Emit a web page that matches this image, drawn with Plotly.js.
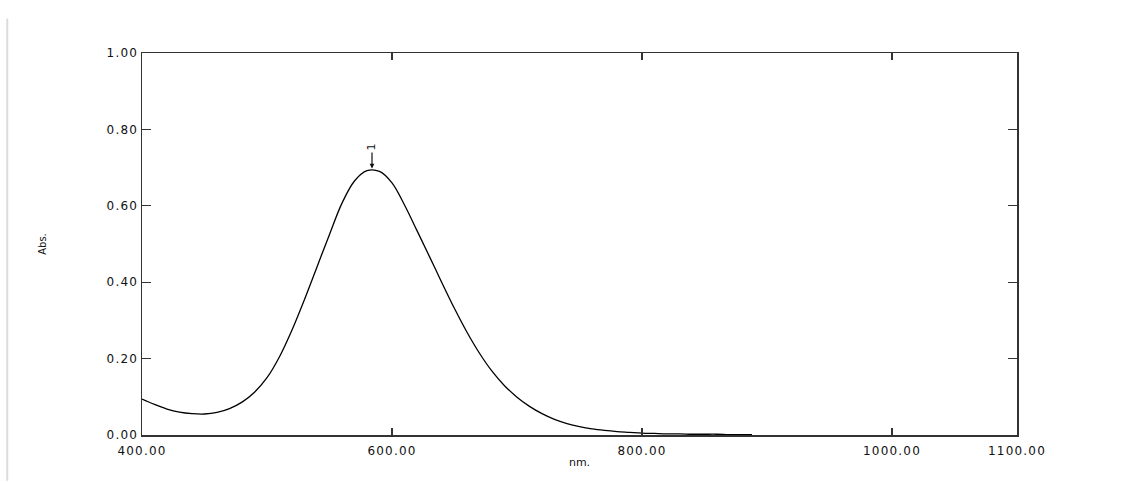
<!DOCTYPE html>
<html>
<head>
<meta charset="utf-8">
<script src="https://cdn.plot.ly/plotly-3.0.1.min.js"></script>
<style>
html,body{margin:0;padding:0;background:#fff;}
#chart{width:1142px;height:482px;}
.xtick text,.ytick text{letter-spacing:1.2px;}
</style>
</head>
<body>
<div id="chart"></div>
<script>
// Wavelength (nm) and absorbance
const wavelength = [400,410,420,430,440,450,460,470,480,490,500,510,520,530,540,550,560,570,580,590,600,610,620,630,640,650,660,670,680,690,700,710,720,730,740,750,760,770,780,790,800,810,820,830,840,850,860,870,880,888];
const absorbance = [0.094,0.080,0.068,0.060,0.056,0.055,0.059,0.069,0.086,0.112,0.150,0.205,0.275,0.355,0.440,0.525,0.607,0.665,0.692,0.690,0.660,0.602,0.535,0.467,0.398,0.331,0.269,0.214,0.167,0.129,0.099,0.075,0.056,0.041,0.030,0.022,0.016,0.012,0.009,0.007,0.005,0.004,0.003,0.003,0.002,0.002,0.002,0.001,0.001,0.001];

const xTickVals = [400,600,800,1000,1100];
const yTickVals = [0,0.2,0.4,0.6,0.8,1.0];
const peakWavelength = 584;
const peakAbs = 0.695;
const peakLabel = "1";

const trace = {
  x: wavelength, y: absorbance, type: 'scatter', mode: 'lines',
  line: {color: '#000', width: 1.3, shape: 'spline', smoothing: 1},
  hoverinfo: 'x+y'
};

const font = {family: '"DejaVu Sans", Verdana, sans-serif', size: 12, color: '#111'};

const layout = {
  width: 1142, height: 482,
  margin: {l: 142, r: 125, t: 53, b: 47},
  paper_bgcolor: '#fff', plot_bgcolor: '#fff',
  showlegend: false,
  font: font,
  xaxis: {
    range: [400, 1100], tickvals: xTickVals, tickformat: '.2f',
    ticks: 'inside', ticklen: 7, tickwidth: 1.2, tickcolor: '#333',
    showline: true, linecolor: '#333', linewidth: 1.5, mirror: 'ticks',
    showgrid: false, zeroline: false, ticklabelstandoff: 4,
    tickfont: {family: font.family, size: 12, color: '#111'},
    title: {text: 'nm.', font: {family: font.family, size: 11, color: '#111'}, standoff: 1}
  },
  yaxis: {
    range: [0, 1.0], tickvals: yTickVals, tickformat: '.2f',
    ticks: 'inside', ticklen: 9, tickwidth: 1.2, tickcolor: '#333',
    showline: true, linecolor: '#333', linewidth: 1.5, mirror: 'ticks',
    showgrid: false, zeroline: false,
    tickfont: {family: font.family, size: 12, color: '#111'},
    title: {text: 'Abs.', font: {family: font.family, size: 10, color: '#111'}, standoff: 58}
  },
  annotations: [{
    x: peakWavelength, y: peakAbs, xref: 'x', yref: 'y',
    text: peakLabel, textangle: -90, showarrow: true,
    arrowhead: 2, arrowsize: 0.8, arrowwidth: 1.2, arrowcolor: '#111',
    ax: 0, ay: -22, standoff: 1,
    font: {family: font.family, size: 11, color: '#111'}
  }],
  shapes: [{
    type: 'line', xref: 'paper', yref: 'paper',
    x0: -0.154, x1: -0.154, y0: -0.12, y1: 1.09,
    line: {color: '#dcdcdc', width: 2}
  }]
};

Plotly.newPlot('chart', [trace], layout, {displayModeBar: false, staticPlot: true});
</script>
</body>
</html>
